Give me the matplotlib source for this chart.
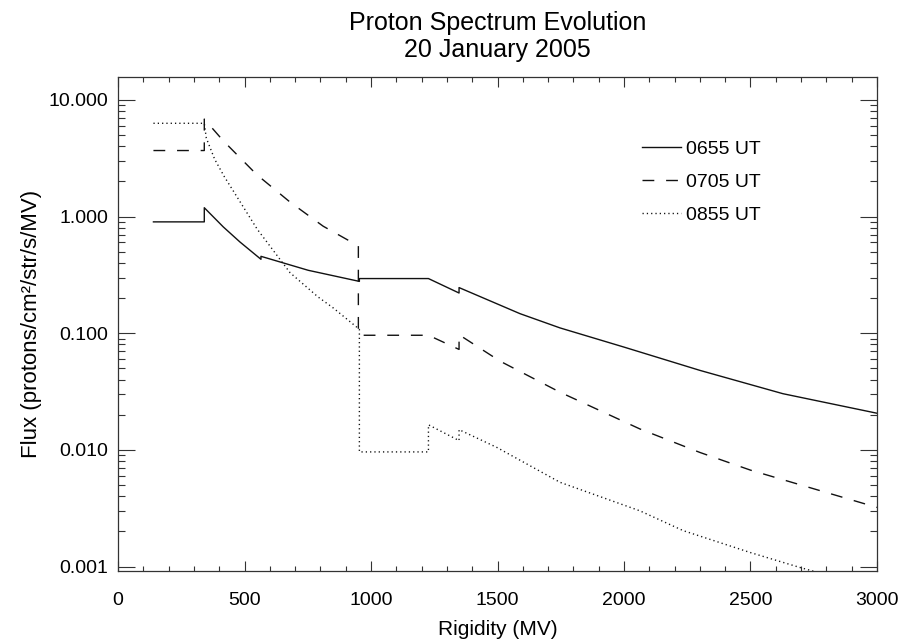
import matplotlib
matplotlib.use('Agg')
import matplotlib.pyplot as plt
from matplotlib.ticker import FixedLocator, MultipleLocator, FormatStrFormatter, NullFormatter

plt.rcParams['font.family'] = ['Liberation Sans', 'DejaVu Sans']

# values (rigidity in MV, flux in protons/cm2/str/s/MV)
x_0655 = [140, 341, 341, 416, 482, 565, 565, 752, 954, 954, 1227, 1348, 1348,
          1589, 1747, 2000, 2300, 2628, 3000]
y_0655 = [0.90, 0.90, 1.19, 0.815, 0.605, 0.43, 0.456, 0.346, 0.278, 0.294, 0.294,
          0.221, 0.246, 0.147, 0.111, 0.076, 0.048, 0.0303, 0.0206]

x_0705 = [140, 341, 341, 416, 548, 680, 811, 950, 950, 1227, 1348, 1348,
          1510, 1747, 2063, 2300, 2500, 2617, 3000]
y_0705 = [3.68, 3.68, 6.84, 4.46, 2.29, 1.33, 0.826, 0.56, 0.096, 0.096, 0.0726,
          0.097, 0.0576, 0.0312, 0.0151, 0.0095, 0.0067, 0.00564, 0.00321]

x_0855 = [140, 341, 349, 382, 420, 460, 550, 680, 790, 850, 954, 954, 1227, 1227,
          1348, 1348, 1497, 1747, 2063, 2234, 2498, 2696, 2800]
y_0855 = [6.3, 6.3, 4.7, 3.1, 2.2, 1.6, 0.78, 0.33, 0.205, 0.165, 0.108, 0.0096,
          0.0096, 0.0164, 0.012, 0.0149, 0.0105, 0.00527, 0.0030, 0.00203, 0.00132,
          0.00098, 0.00085]

labels = ['0655 UT', '0705 UT', '0855 UT']
y_ticks = [0.001, 0.01, 0.1, 1, 10]

fig = plt.figure(figsize=(9.03, 6.43), dpi=100)
ax = fig.add_axes([0.1307, 0.1124, 0.8405, 0.7683])

lc = '#111111'
ax.plot(x_0655, y_0655, color=lc, lw=1.0, label=labels[0])
ax.plot(x_0705, y_0705, color=lc, lw=1.0, dashes=(8.5, 8.5), label=labels[1])
ax.plot(x_0855, y_0855, color=lc, lw=1.0, dashes=(0.9, 2.2), label=labels[2])

ax.set_yscale('log')
ax.set_xlim(0, 3000)
ax.set_ylim(0.00092, 15.8)

ax.xaxis.set_major_locator(MultipleLocator(500))
ax.xaxis.set_minor_locator(MultipleLocator(100))
ax.yaxis.set_major_locator(FixedLocator(y_ticks))
ax.yaxis.set_major_formatter(FormatStrFormatter('%.3f'))
ax.yaxis.set_minor_formatter(NullFormatter())

ax.tick_params(which='both', direction='in', top=True, right=True, colors='#333333',
               labelcolor='black', labelsize=14)
ax.tick_params(axis='x', which='major', length=7, width=0.8, pad=15)
ax.tick_params(axis='x', which='minor', length=3.5, width=0.8)
ax.tick_params(axis='y', which='major', length=12, width=0.8, pad=7)
ax.tick_params(axis='y', which='minor', length=5, width=0.8)
for s in ax.spines.values():
    s.set_linewidth(0.9)
    s.set_color('#333333')

ax.set_xlabel('Rigidity (MV)', fontsize=15, labelpad=8)
ax.set_ylabel('Flux (protons/cm²/str/s/MV)', fontsize=16, labelpad=5)
ax.set_title('Proton Spectrum Evolution\n20 January 2005', fontsize=18,
             linespacing=1.15, pad=14)

ax.legend(loc='upper left', bbox_to_anchor=(0.69, 0.871), frameon=False,
          fontsize=14, handlelength=2.0, handletextpad=0.3, labelspacing=0.78,
          borderpad=0, borderaxespad=0)

fig.savefig('out.png', dpi=100)
